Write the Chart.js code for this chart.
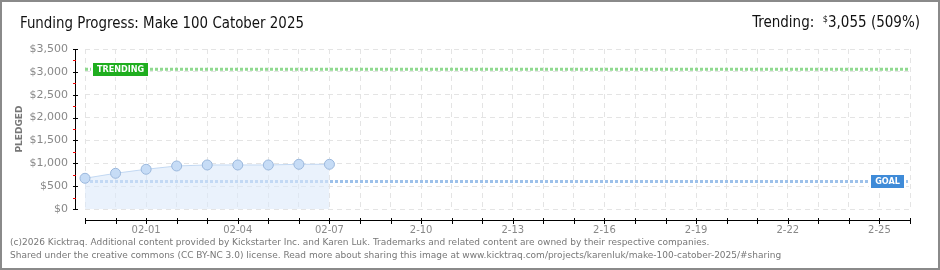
<!DOCTYPE html>
<html>
<head>
<meta charset="utf-8">
<script src="https://cdn.jsdelivr.net/npm/chart.js@4.4.1/dist/chart.umd.min.js"></script>
<style>
  body { margin: 0; background: #fff; }
  #frame { position: relative; width: 936px; height: 266px; border: 2px solid #8a8a8a; overflow: hidden; }
  #wrap { position: absolute; left: -2px; top: -2px; width: 940px; height: 270px; }
  .title { position: absolute; left: 18px; top: 11px; font: 16px "Liberation Sans Narrow", "DejaVu Sans Condensed", sans-serif; color: #111; transform: scaleX(0.93); transform-origin: left top; }
  .trend { position: absolute; right: 18px; top: 11px; font: 15px "Liberation Sans Narrow", "DejaVu Sans Condensed", sans-serif; color: #111; }
  .trend sup { font-size: 9px; vertical-align: 5px; }
  .foot { position: absolute; left: 8px; font: 9px "DejaVu Sans", sans-serif; color: #777; white-space: nowrap; }
</style>
</head>
<body>
<div id="frame">
  <div id="wrap"><canvas id="myChartFunding"></canvas></div>
  <div class="title">Funding Progress: Make 100 Catober 2025</div>
  <div class="trend">Trending: &nbsp;<sup>$</sup>3,055 (509%)</div>
  <div class="foot" style="top:235px">(c)2026 Kicktraq. Additional content provided by Kickstarter Inc. and Karen Luk. Trademarks and related content are owned by their respective companies.</div>
  <div class="foot" style="top:248px">Shared under the creative commons (CC BY-NC 3.0) license. Read more about sharing this image at www.kicktraq.com/projects/karenluk/make-100-catober-2025/#sharing</div>
</div>
<script>
// days of the campaign
var categories = ['01-30', '01-31', '02-01', '02-02', '02-03', '02-04', '02-05', '02-06', '02-07', '02-08',
  '02-09', '02-10', '02-11', '02-12', '02-13', '02-14', '02-15', '02-16', '02-17', '02-18', '02-19',
  '02-20', '02-21', '02-22', '02-23', '02-24', '02-25', '02-26'];
var xTickLabels = ['', '', '02-01', '', '', '02-04', '', '', '02-07', '', '', '2-10', '', '', '2-13', '',
  '', '2-16', '', '', '2-19', '', '', '2-22', '', '', '2-25', ''];
var pledged = [672, 781, 869, 941, 963, 963, 963, 978, 978];
var goal = 600;
var trending = 3055;
var yMax = 3500;
var yStep = 500;

var goalLine = categories.map(function () { return goal; });
var trendLine = categories.map(function () { return trending; });

// axis lines sit apart from the plot, like the original image
var axesPlugin = {
    id: 'kicktraqAxes',
    afterDraw: function (chart) {
        var ctx = chart.ctx;
        var x = chart.scales.x, y = chart.scales.y;
        var area = chart.chartArea;
        var ax = Math.round(area.left) - 10;
        var ay = Math.round(area.bottom) + 11;
        ctx.save();
        ctx.fillStyle = '#000';
        var top = Math.round(y.getPixelForValue(yMax));
        var bottom = Math.round(y.getPixelForValue(0));
        ctx.fillRect(ax, top, 1, bottom - top + 1);
        for (var v = 0; v <= yMax; v += yStep / 2) {
            var py = Math.round(y.getPixelForValue(v));
            if (v % yStep === 0) {
                ctx.fillStyle = '#000';
                ctx.fillRect(ax - 2, py, 5, 1);
            } else {
                ctx.fillStyle = '#e00';
                ctx.fillRect(ax - 2, py, 3, 1);
            }
        }
        ctx.fillStyle = '#000';
        var x0 = Math.round(x.getPixelForValue(0));
        var x1 = Math.round(x.getPixelForValue(categories.length - 1));
        ctx.fillRect(x0, ay, x1 - x0 + 1, 1);
        for (var i = 0; i < categories.length; i++) {
            var px = Math.round(x.getPixelForValue(i));
            ctx.fillRect(px, ay - 2, 1, 6);
        }
        // tags on the reference lines
        drawTag(ctx, 'TRENDING', x0 + 8, y.getPixelForValue(trending), 55, '#1fae1f');
        drawTag(ctx, 'GOAL', x1 - 39, y.getPixelForValue(goal), 33, '#3f8bd8');
        ctx.restore();
    }
};

function drawTag(ctx, text, left, cy, w, color) {
    var h = 13;
    var top = Math.round(cy - h / 2);
    ctx.fillStyle = '#fff';
    ctx.fillRect(left - 2, top - 1, w + 4, h + 2);
    ctx.fillStyle = color;
    ctx.fillRect(left, top, w, h);
    ctx.fillStyle = '#fff';
    ctx.font = 'bold 9px "DejaVu Sans Condensed", "DejaVu Sans", sans-serif';
    ctx.textBaseline = 'middle';
    ctx.textAlign = 'center';
    ctx.fillText(text, left + w / 2, top + h / 2 + 0.5);
}

var ctx = document.getElementById('myChartFunding');
var myChartFunding = new Chart(ctx, {
    type: 'line',
    plugins: [axesPlugin],
    data: {
        labels: categories,
        datasets: [{
                label: 'Trending',
                data: trendLine,
                borderColor: '#8fd98f',
                borderWidth: 3,
                borderDash: [3, 2],
                pointRadius: 0,
                fill: false,
                order: 2
            }, {
                label: 'Goal',
                data: goalLine,
                borderColor: '#9dc1ea',
                borderWidth: 3,
                borderDash: [3, 2],
                pointRadius: 0,
                fill: false,
                order: 1
            }, {
                label: 'Pledged',
                data: pledged,
                borderColor: '#c2d8f2',
                borderWidth: 1,
                backgroundColor: 'rgba(220,234,250,0.6)',
                pointBackgroundColor: '#c6dcf6',
                pointBorderColor: '#9ab7dc',
                pointBorderWidth: 1,
                pointRadius: 5,
                fill: 'origin',
                tension: 0,
                order: 0
            }]
    },
    options: {
        responsive: true,
        maintainAspectRatio: false,
        animation: false,
        events: [],
        layout: { padding: { left: 0, right: 30, top: 49, bottom: 0 } },
        plugins: { legend: { display: false }, tooltip: { enabled: false } },
        scales: {
            x: {
                offset: false,
                afterFit: function (scale) { scale.height = 61; },
                grid: { color: '#e4e4e4', drawTicks: false },
                border: { display: false, dash: [5, 4] },
                ticks: {
                    autoSkip: false,
                    maxRotation: 0,
                    padding: 15,
                    color: '#888',
                    font: { family: '"DejaVu Sans", sans-serif', size: 10 },
                    callback: function (val, index) { return xTickLabels[index]; }
                }
            },
            y: {
                min: 0,
                max: yMax,
                afterFit: function (scale) { scale.width = 85; },
                grid: { color: '#e4e4e4', drawTicks: false },
                border: { display: false, dash: [5, 4] },
                title: {
                    display: true,
                    text: 'PLEDGED',
                    color: '#777',
                    padding: { top: 14, bottom: 0 },
                    font: { family: '"DejaVu Sans", sans-serif', size: 9, weight: 'bold' }
                },
                ticks: {
                    stepSize: yStep,
                    padding: 17,
                    color: '#888',
                    font: { family: '"DejaVu Sans", sans-serif', size: 11 },
                    callback: function (v) { return '$' + v.toLocaleString('en-US'); }
                }
            }
        }
    }
});
</script>
</body>
</html>
